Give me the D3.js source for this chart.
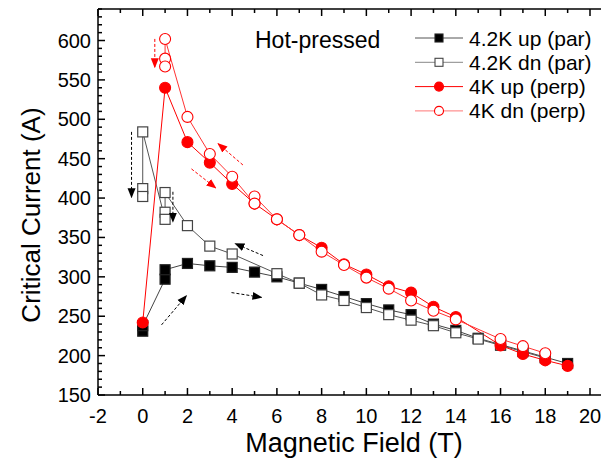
<!DOCTYPE html>
<html>
<head>
<meta charset="utf-8">
<script src="https://cdn.jsdelivr.net/npm/d3@7"></script>
<style>
  body { margin: 0; background: #fff; }
  svg { font-family: "Liberation Sans", Arial, sans-serif; }
</style>
</head>
<body>
<div id="chart"></div>
<script>
const width = 601;
const height = 461;
const margin = {top: 9, right: 11, bottom: 66, left: 98};

// 4.2K up (par)
const upParField = [0, 0, 1, 1, 2, 3, 4, 5, 6, 7, 8, 9, 10, 11, 12, 13, 14, 15, 16, 17, 18, 19];
const upParIc    = [231, 238, 297, 309, 317, 314, 312, 306, 300, 292, 284, 275, 266, 258, 252, 240, 232, 222, 214, 206, 198, 190];
// 4.2K dn (par)
const dnParField = [18, 17, 16, 15, 14, 13, 12, 11, 10, 9, 8, 7, 6, 4, 3, 2, 1, 1, 1, 0, 0, 0];
const dnParIc    = [197, 205, 213, 221, 229, 238, 245, 252, 261, 270, 277, 292, 304, 329, 339, 365, 407, 382, 373, 484, 412, 402];
// 4K up (perp)
const upPerpField = [0, 1, 2, 3, 4, 5, 6, 7, 8, 9, 10, 11, 12, 13, 14, 16, 17, 18, 19];
const upPerpIc    = [242, 540, 471, 445, 418, 393, 373, 353, 337, 316, 303, 288, 280, 262, 249, 213, 202, 194, 187];
// 4K dn (perp)
const dnPerpField = [18, 17, 16, 14, 13, 12, 11, 10, 9, 8, 7, 6, 5, 5, 4, 3, 2, 1, 1, 1];
const dnPerpIc    = [203, 212, 221, 246, 257, 270, 285, 299, 315, 332, 353, 373, 402, 393, 427, 456, 503, 602, 577, 567];

const seriesNames = ["4.2K up (par)", "4.2K dn (par)", "4K up (perp)", "4K dn (perp)"];

// dashed arrows, [field0, current0, field1, current1], head at the second point
const redArrows = [[0.54, 602, 0.54, 566], [4.48, 442, 3.37, 469], [2.18, 437, 3.26, 413]];
const blackArrows = [[-0.5, 484, -0.5, 401], [1.35, 408, 1.35, 370], [5.38, 327, 4.14, 342],
                     [3.97, 280, 5.31, 274], [0.84, 239, 1.95, 276]];

const xTicks = [-2, 0, 2, 4, 6, 8, 10, 12, 14, 16, 18, 20];
const yTicks = [150, 200, 250, 300, 350, 400, 450, 500, 550, 600];

const svg = d3.select("#chart").append("svg")
    .attr("width", width)
    .attr("height", height);

const x = d3.scaleLinear().domain([-2, 20]).range([margin.left, width - margin.right]);
const y = d3.scaleLinear().domain([150, 640]).range([height - margin.bottom, margin.top]);

const zip = (xs, ys) => xs.map((v, i) => [v, ys[i]]);

const series = [
  {data: zip(upParField, upParIc), color: "#222", shape: "square", fill: "#000", lineColor: "#444"},
  {data: zip(dnParField, dnParIc), color: "#444", shape: "square", fill: "#fff", lineColor: "#555"},
  {data: zip(upPerpField, upPerpIc), color: "#f00", shape: "circle", fill: "#f00", lineColor: "#f00"},
  {data: zip(dnPerpField, dnPerpIc), color: "#f00", shape: "circle", fill: "#fff", lineColor: "#f33"}
];

// arrow heads
const defs = svg.append("defs");
[["headRed", "#f00"], ["headBlack", "#000"]].forEach(([id, c]) => {
  defs.append("marker")
      .attr("id", id)
      .attr("viewBox", "0 0 10 10")
      .attr("refX", 9).attr("refY", 5)
      .attr("markerWidth", 10).attr("markerHeight", 10)
      .attr("markerUnits", "userSpaceOnUse")
      .attr("orient", "auto")
    .append("path")
      .attr("d", "M0,1 L10,5 L0,9 Z")
      .attr("fill", c);
});

const line = d3.line().x(d => x(d[0])).y(d => y(d[1]));
const plot = svg.append("g");

series.forEach(s => {
  plot.append("path")
      .datum(s.data)
      .attr("fill", "none")
      .attr("stroke", s.lineColor)
      .attr("stroke-width", 1)
      .attr("d", line);
});

function drawMarkers(g, s, pts) {
  if (s.shape === "square") {
    g.selectAll(null).data(pts).join("rect")
        .attr("x", d => d[0] - 5).attr("y", d => d[1] - 5)
        .attr("width", 10).attr("height", 10)
        .attr("fill", s.fill)
        .attr("stroke", s.color)
        .attr("stroke-width", 1.2);
  } else {
    g.selectAll(null).data(pts).join("circle")
        .attr("cx", d => d[0]).attr("cy", d => d[1])
        .attr("r", 5.5)
        .attr("fill", s.fill)
        .attr("stroke", s.color)
        .attr("stroke-width", 1.1);
  }
}

series.forEach(s => {
  drawMarkers(plot.append("g"), s, s.data.map(d => [x(d[0]), y(d[1])]));
});

// dashed arrows
function drawArrows(list, color, head) {
  plot.selectAll(null).data(list).join("line")
      .attr("x1", d => x(d[0])).attr("y1", d => y(d[1]))
      .attr("x2", d => x(d[2])).attr("y2", d => y(d[3]))
      .attr("stroke", color)
      .attr("stroke-width", 1)
      .attr("stroke-dasharray", "3,2")
      .attr("marker-end", `url(#${head})`);
}
drawArrows(redArrows, "#f00", "headRed");
drawArrows(blackArrows, "#000", "headBlack");

// frame and ticks
const frame = svg.append("g").attr("stroke", "#000").attr("stroke-width", 1.5);
const x0 = x(-2), yb = y(150), yt = y(640);
frame.append("line").attr("x1", x0).attr("x2", width).attr("y1", yb).attr("y2", yb);
frame.append("line").attr("x1", x0).attr("x2", width).attr("y1", yt).attr("y2", yt);
frame.append("line").attr("x1", x0).attr("x2", x0).attr("y1", yt).attr("y2", yb);

const xMinor = d3.range(-2, 20.01, 1);
frame.selectAll(null).data(xMinor).join("line")
    .attr("x1", d => x(d)).attr("x2", d => x(d))
    .attr("y1", yb).attr("y2", d => yb - (d % 2 === 0 ? 7 : 4));
frame.selectAll(null).data(xMinor).join("line")
    .attr("x1", d => x(d)).attr("x2", d => x(d))
    .attr("y1", yt).attr("y2", d => yt + (d % 2 === 0 ? 7 : 4));

const yMinor = d3.range(150, 640.1, 10);
frame.selectAll(null).data(yMinor).join("line")
    .attr("y1", d => y(d)).attr("y2", d => y(d))
    .attr("x1", x0).attr("x2", d => x0 + (d % 50 === 0 ? 7 : 4));

svg.append("g").selectAll("text").data(xTicks).join("text")
    .attr("x", d => x(d)).attr("y", yb + 28)
    .attr("text-anchor", "middle")
    .attr("font-size", 20)
    .text(d => d);

svg.append("g").selectAll("text").data(yTicks).join("text")
    .attr("x", x0 - 7).attr("y", d => y(d) + 7)
    .attr("text-anchor", "end")
    .attr("font-size", 20)
    .text(d => d);

svg.append("text")
    .attr("x", 354).attr("y", 452)
    .attr("text-anchor", "middle")
    .attr("font-size", 27)
    .text("Magnetic Field (T)");

svg.append("text")
    .attr("transform", "translate(40,215) rotate(-90)")
    .attr("text-anchor", "middle")
    .attr("font-size", 26)
    .text("Critical Current (A)");

svg.append("text")
    .attr("x", 255).attr("y", 48)
    .attr("font-size", 23)
    .text("Hot-pressed");

// legend
const legend = svg.append("g").attr("transform", "translate(415,38)");
series.forEach((s, i) => {
  const g = legend.append("g").attr("transform", `translate(0,${i * 24.3})`);
  g.append("line").attr("x1", 0).attr("x2", 48).attr("y1", 0).attr("y2", 0)
      .attr("stroke", i === 0 ? "#555" : i === 1 ? "#888" : i === 2 ? "#f00" : "#f77")
      .attr("stroke-width", 1);
  if (s.shape === "square") {
    g.append("rect").attr("x", 20).attr("y", -4).attr("width", 8).attr("height", 8)
        .attr("fill", s.fill).attr("stroke", s.color).attr("stroke-width", 1.1);
  } else {
    g.append("circle").attr("cx", 24).attr("cy", 0).attr("r", 4.5)
        .attr("fill", s.fill).attr("stroke", s.color).attr("stroke-width", 1.1);
  }
  g.append("text").attr("x", 54).attr("y", 7.5)
      .attr("font-size", 21)
      .text(seriesNames[i]);
});
</script>
</body>
</html>
